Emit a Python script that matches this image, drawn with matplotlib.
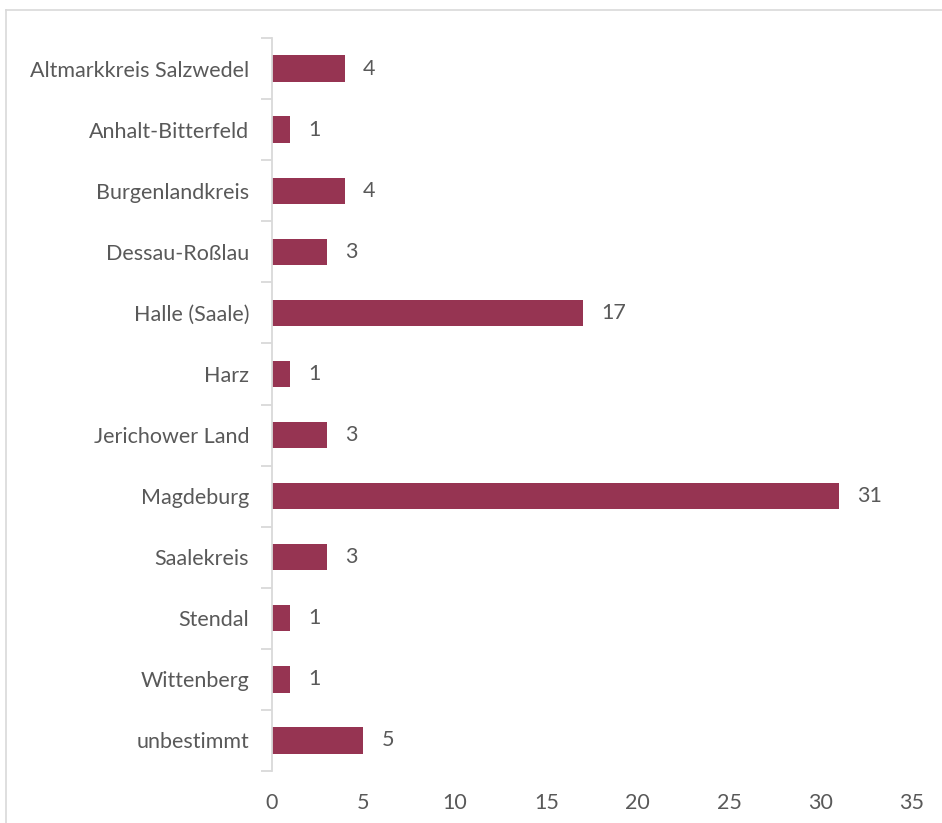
import matplotlib
matplotlib.use("Agg")
import matplotlib.pyplot as plt
from matplotlib.lines import Line2D

# Landkreise / kreisfreie Städte und Anzahl
regions = [
    "Altmarkkreis Salzwedel",
    "Anhalt-Bitterfeld",
    "Burgenlandkreis",
    "Dessau-Roßlau",
    "Halle (Saale)",
    "Harz",
    "Jerichower Land",
    "Magdeburg",
    "Saalekreis",
    "Stendal",
    "Wittenberg",
    "unbestimmt",
]
counts = [4, 1, 4, 3, 17, 1, 3, 31, 3, 1, 1, 5]
x_ticks = [0, 5, 10, 15, 20, 25, 30, 35]

bar_color = "#963452"
text_color = "#595959"
grid_color = "#d9d9d9"
fs = 15.5

plt.rcParams["font.family"] = ["Lato", "DejaVu Sans"]

W, H = 942, 823
fig = plt.figure(figsize=(W / 100, H / 100), dpi=100)
ax = fig.add_axes([272 / W, 1 - 771 / H, 640 / W, 733 / H])

y = list(range(len(regions)))
bars = ax.barh(y, counts, height=0.43, color=bar_color)

ax.set_xlim(0, 35)
ax.set_ylim(len(regions) - 0.5, -0.5)
ax.set_yticks(y)
ax.set_yticklabels(regions)
ax.set_yticks([i - 0.5 for i in range(len(regions) + 1)], minor=True)
ax.set_xticks(x_ticks)
ax.set_xticklabels([str(t) for t in x_ticks])

ax.tick_params(axis="y", which="major", length=0, pad=16.5, labelsize=fs,
               labelcolor=text_color)
ax.tick_params(axis="y", which="minor", length=8, width=1.3, color=grid_color)
ax.tick_params(axis="x", length=0, pad=16, labelsize=fs, labelcolor=text_color)

for side in ("top", "right", "bottom"):
    ax.spines[side].set_visible(False)
ax.spines["left"].set_color(grid_color)
ax.spines["left"].set_linewidth(1.3)

for rect, v in zip(bars, counts):
    ax.annotate(str(v), xy=(rect.get_width(), rect.get_y() + rect.get_height() / 2),
                xytext=(18, 0), textcoords="offset pixels",
                ha="left", va="center", fontsize=fs, color=text_color)

# Rahmen des Diagrammbereichs
fig.add_artist(Line2D([6 / W, 6 / W], [0, 1 - 10 / H], transform=fig.transFigure,
                      color=grid_color, linewidth=1.2))
fig.add_artist(Line2D([6 / W, 1], [1 - 10 / H, 1 - 10 / H], transform=fig.transFigure,
                      color=grid_color, linewidth=1.2))

fig.savefig("out.png", dpi=100)
